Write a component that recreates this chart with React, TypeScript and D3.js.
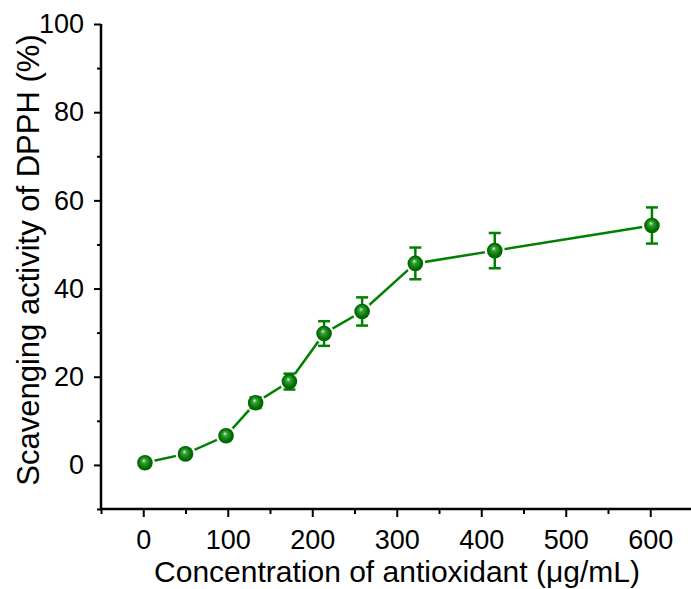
import React, { useEffect, useRef } from "react";
import * as d3 from "d3";

// concentration (ug/mL) vs scavenging activity (%)
const concentrations = [2, 50, 98, 133, 173, 214, 259, 322, 416, 602];
const activity = [0.5, 2.5, 6.6, 14.1, 18.9, 29.8, 34.8, 45.7, 48.6, 54.3];
const errors = [0.5, 0.6, 0.8, 1.2, 1.8, 2.8, 3.2, 3.6, 4.0, 4.1];
const xTicks = [0, 100, 200, 300, 400, 500, 600];
const yTicks = [0, 20, 40, 60, 80, 100];

function App() {
  const ref = useRef<SVGSVGElement>(null);

  useEffect(() => {
    const svg = d3.select(ref.current);
    svg.selectAll("*").remove();

    const green = "#008000";
    const font = "Arial, 'Liberation Sans', sans-serif";

    const x = d3.scaleLinear().domain([-50, 650]).range([101, 692.5]);
    const y = d3.scaleLinear().domain([-10, 100]).range([509, 24]);

    const defs = svg.append("defs");
    const grad = defs.append("radialGradient")
      .attr("id", "ball")
      .attr("cx", "0.5").attr("cy", "0.5").attr("r", "0.55")
      .attr("fx", "0.42").attr("fy", "0.35");
    grad.append("stop").attr("offset", "0%").attr("stop-color", "#d8f0d8");
    grad.append("stop").attr("offset", "25%").attr("stop-color", "#3aa03a");
    grad.append("stop").attr("offset", "70%").attr("stop-color", "#007000");
    grad.append("stop").attr("offset", "100%").attr("stop-color", "#005a00");

    // axes
    const xAxis = svg.append("g")
      .attr("transform", `translate(0,${y(-10)})`)
      .call(d3.axisBottom(x).tickValues(xTicks).tickSize(8).tickPadding(13).tickFormat(d3.format("d")));
    svg.append("g")
      .attr("transform", `translate(0,${y(-10)})`)
      .call(d3.axisBottom(x).tickValues(d3.range(-50, 651, 100)).tickSize(5).tickFormat(() => ""))
      .call(g => g.select(".domain").remove());

    const yAxis = svg.append("g")
      .attr("transform", `translate(${x(-50)},0)`)
      .call(d3.axisLeft(y).tickValues(yTicks).tickSize(7).tickPadding(10).tickFormat(d3.format("d")));
    svg.append("g")
      .attr("transform", `translate(${x(-50)},0)`)
      .call(d3.axisLeft(y).tickValues(d3.range(-10, 101, 20)).tickSize(4).tickFormat(() => ""))
      .call(g => g.select(".domain").remove());

    svg.selectAll(".domain").attr("stroke", "#000").attr("stroke-width", 2.5);
    svg.selectAll(".tick line").attr("stroke", "#000").attr("stroke-width", 2);
    svg.selectAll(".tick text")
      .attr("font-family", font)
      .attr("font-size", 27)
      .attr("fill", "#000");
    xAxis.selectAll(".domain").attr("d", `M${x(-50)},0H${x(650)}`);
    yAxis.selectAll(".domain").attr("d", `M0,${y(-10)}V${y(100)}`);

    const data = concentrations.map((c, i) => ({ c, v: activity[i], e: errors[i] }));

    const line = d3.line<{ c: number; v: number }>()
      .x(d => x(d.c))
      .y(d => y(d.v));

    svg.append("path")
      .datum(data)
      .attr("d", line)
      .attr("fill", "none")
      .attr("stroke", green)
      .attr("stroke-width", 2.5);

    // white gap round symbols
    svg.selectAll(".gap")
      .data(data)
      .enter()
      .append("circle")
      .attr("cx", d => x(d.c))
      .attr("cy", d => y(d.v))
      .attr("r", 10)
      .attr("fill", "#fff");

    const bars = svg.selectAll(".err")
      .data(data)
      .enter()
      .append("g")
      .attr("stroke", green)
      .attr("stroke-width", 2.5);
    bars.append("line")
      .attr("x1", d => x(d.c)).attr("x2", d => x(d.c))
      .attr("y1", d => y(d.v + d.e)).attr("y2", d => y(d.v - d.e));
    bars.append("line")
      .attr("x1", d => x(d.c) - 6).attr("x2", d => x(d.c) + 6)
      .attr("y1", d => y(d.v + d.e)).attr("y2", d => y(d.v + d.e));
    bars.append("line")
      .attr("x1", d => x(d.c) - 6).attr("x2", d => x(d.c) + 6)
      .attr("y1", d => y(d.v - d.e)).attr("y2", d => y(d.v - d.e));

    svg.selectAll(".pt")
      .data(data)
      .enter()
      .append("circle")
      .attr("cx", d => x(d.c))
      .attr("cy", d => y(d.v))
      .attr("r", 7.8)
      .attr("fill", "url(#ball)");

    svg.append("text")
      .attr("x", 397)
      .attr("y", 582)
      .attr("text-anchor", "middle")
      .attr("font-family", font)
      .attr("font-size", 30)
      .attr("fill", "#000")
      .text("Concentration of antioxidant (\u03bcg/mL)");

    svg.append("text")
      .attr("transform", `translate(39,260) rotate(-90)`)
      .attr("text-anchor", "middle")
      .attr("font-family", font)
      .attr("font-size", 31)
      .attr("fill", "#000")
      .text("Scavenging activity of DPPH (%)");
  }, []);

  return (
    <svg
      ref={ref}
      width={691}
      height={589}
      style={{ position: "absolute", left: 0, top: 0, background: "#fff" }}
    />
  );
}

export default App;
